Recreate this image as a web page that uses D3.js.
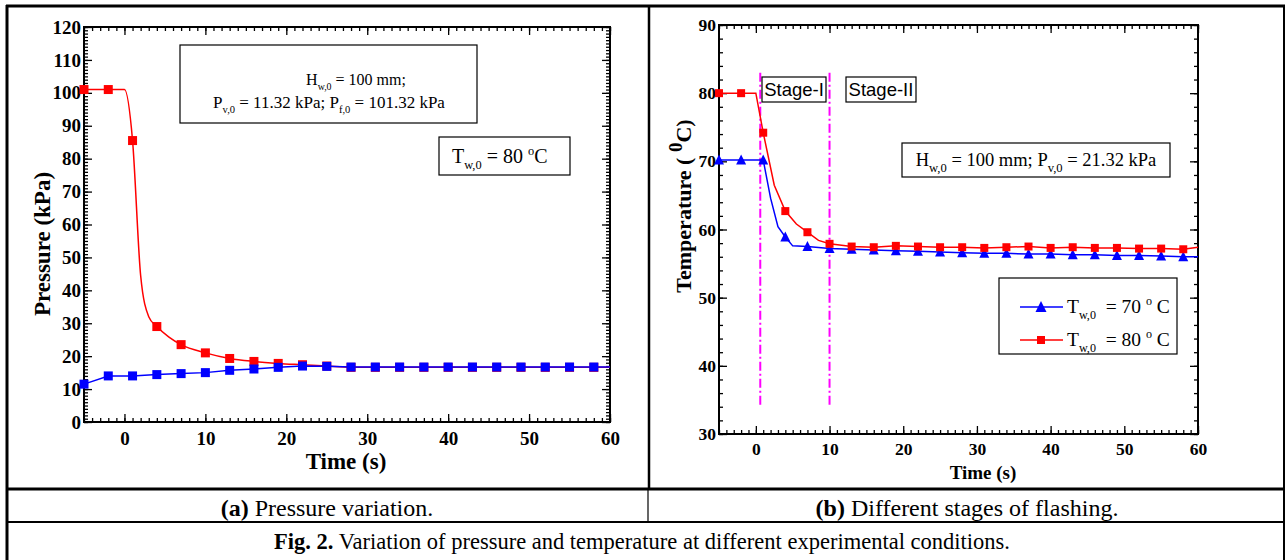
<!DOCTYPE html>
<html lang="en">
<head>
<meta charset="utf-8">
<script src="https://d3js.org/d3.v7.min.js"></script>
<style>
  body { margin: 0; background: #fff; }
  text { white-space: pre; }
</style>
</head>
<body>
<div id="chart"></div>
<script>
// ---------- (a) pressure variation ----------
const markTime = [-5, -2, 1, 4, 7, 10, 13, 16, 19, 22, 25, 28, 31, 34, 37, 40, 43, 46, 49, 52, 55, 58];
const press80Mark = [101, 101, 85.5, 29, 23.5, 21, 19.3, 18.4, 17.8, 17.4, 17.0, 16.6, 16.6, 16.6, 16.6, 16.6, 16.6, 16.6, 16.6, 16.6, 16.6, 16.6];
const press70Mark = [11.5, 14, 14, 14.4, 14.7, 15, 15.7, 16.1, 16.6, 17.0, 16.9, 16.7, 16.7, 16.7, 16.7, 16.7, 16.7, 16.7, 16.7, 16.7, 16.7, 16.7];
const press80LineTime = [-5, 0, 1, 2, 3, 4, 5.5, 7, 10, 13, 16, 19, 22, 25, 28, 31, 34, 37, 40, 43, 46, 49, 52, 55, 58, 60];
const press80Line = [101, 101, 85.5, 44.5, 32, 29, 25.8, 23.5, 21, 19.3, 18.4, 17.8, 17.4, 17.0, 16.6, 16.6, 16.6, 16.6, 16.6, 16.6, 16.6, 16.6, 16.6, 16.6, 16.6, 16.6];
const press70LineTime = [-5, -2, 1, 4, 7, 10, 13, 16, 19, 22, 25, 28, 31, 34, 37, 40, 43, 46, 49, 52, 55, 58, 60];
const press70Line = [11.5, 14, 14, 14.4, 14.7, 15, 15.7, 16.1, 16.6, 17.0, 16.9, 16.7, 16.7, 16.7, 16.7, 16.7, 16.7, 16.7, 16.7, 16.7, 16.7, 16.7, 16.7];
const pressYTicks = [0, 10, 20, 30, 40, 50, 60, 70, 80, 90, 100, 110, 120];

// ---------- (b) temperature / stages ----------
const temp80Mark = [80, 80, 74.2, 62.7, 59.6, 57.9, 57.5, 57.4, 57.6, 57.5, 57.4, 57.4, 57.3, 57.4, 57.5, 57.3, 57.4, 57.3, 57.3, 57.2, 57.2, 57.1];
const temp70Mark = [70.2, 70.2, 70.2, 58.9, 57.5, 57.2, 57.1, 57.0, 56.9, 56.8, 56.7, 56.6, 56.5, 56.5, 56.4, 56.4, 56.3, 56.3, 56.2, 56.2, 56.1, 56.0];
const temp80LineTime = [-5, 0, 1, 2.5, 4, 5.5, 7, 8.5, 10, 13, 16, 19, 22, 25, 28, 31, 34, 37, 40, 43, 46, 49, 52, 55, 58, 60];
const temp80Line = [80, 80, 74.2, 66.5, 62.7, 60.8, 59.6, 58.4, 57.9, 57.5, 57.4, 57.6, 57.5, 57.4, 57.4, 57.3, 57.4, 57.5, 57.3, 57.4, 57.3, 57.3, 57.2, 57.2, 57.1, 57.4];
const temp70LineTime = [-5, 1, 2, 3, 4, 5, 7, 10, 13, 16, 19, 22, 25, 28, 31, 34, 37, 40, 43, 46, 49, 52, 55, 58, 60];
const temp70Line = [70.2, 70.2, 64.6, 60.4, 58.9, 57.6, 57.5, 57.2, 57.1, 57.0, 56.9, 56.8, 56.7, 56.6, 56.5, 56.5, 56.4, 56.4, 56.3, 56.3, 56.2, 56.2, 56.1, 56.0, 56.0];
const tempYTicks = [30, 40, 50, 60, 70, 80, 90];
const stageTimes = [0.6, 10];
const stageSpan = [34, 83];

const timeTicks = [0, 10, 20, 30, 40, 50, 60];

const serif = "'Liberation Serif', 'Times New Roman', serif";
const sans = "'Liberation Sans', Arial, sans-serif";

const svg = d3.select("#chart").append("svg")
  .attr("width", 1287).attr("height", 560)
  .style("background", "#fff");

// text with sub / superscripts
function rich(sel, parts, size, small) {
  let shift = 0;
  parts.forEach(([txt, kind]) => {
    const target = kind === "sub" ? size * 0.3 : kind === "sup" ? -size * 0.4 : 0;
    sel.append("tspan")
      .attr("dy", target - shift)
      .attr("font-size", kind ? size * (small || 0.62) : size)
      .text(txt);
    shift = target;
  });
  return sel;
}

function drawPanel(cfg) {
  const g = svg.append("g");
  const x = d3.scaleLinear().domain([-5, 60]).range([cfg.left, cfg.right]);
  const y = d3.scaleLinear().domain(cfg.yDomain).range([cfg.bottom, cfg.top]);

  const xMinor = d3.range(-5, 61, 1);
  const yMinor = d3.range(cfg.yDomain[0], cfg.yDomain[1] + 0.001, cfg.yMinorStep);

  const styleAxis = a => {
    a.select(".domain").remove();
    a.selectAll("line").attr("stroke", "#000").attr("stroke-width", 1.3);
  };

  // minor ticks on all four sides
  g.append("g").attr("transform", `translate(0,${cfg.bottom})`)
    .call(d3.axisBottom(x).tickValues(xMinor).tickSize(-cfg.minor).tickFormat("")).call(styleAxis);
  g.append("g").attr("transform", `translate(0,${cfg.top})`)
    .call(d3.axisTop(x).tickValues(xMinor).tickSize(-cfg.minor).tickFormat("")).call(styleAxis);
  g.append("g").attr("transform", `translate(${cfg.left},0)`)
    .call(d3.axisLeft(y).tickValues(yMinor).tickSize(-cfg.minor).tickFormat("")).call(styleAxis);
  g.append("g").attr("transform", `translate(${cfg.right},0)`)
    .call(d3.axisRight(y).tickValues(yMinor).tickSize(-cfg.minor).tickFormat("")).call(styleAxis);

  // major ticks with labels
  const bx = g.append("g").attr("transform", `translate(0,${cfg.bottom})`)
    .call(d3.axisBottom(x).tickValues(timeTicks).tickSize(-cfg.major).tickPadding(cfg.xPad)).call(styleAxis);
  g.append("g").attr("transform", `translate(0,${cfg.top})`)
    .call(d3.axisTop(x).tickValues(timeTicks).tickSize(-cfg.major).tickFormat("")).call(styleAxis);
  const ly = g.append("g").attr("transform", `translate(${cfg.left},0)`)
    .call(d3.axisLeft(y).tickValues(cfg.yTicks).tickSize(-cfg.major).tickPadding(cfg.yPad)).call(styleAxis);
  g.append("g").attr("transform", `translate(${cfg.right},0)`)
    .call(d3.axisRight(y).tickValues(cfg.yTicks).tickSize(-cfg.major).tickFormat("")).call(styleAxis);

  [bx, ly].forEach(a => a.selectAll("text")
    .attr("font-family", serif).attr("font-weight", "bold")
    .attr("font-size", cfg.tickFont).attr("fill", "#000"));

  g.append("rect")
    .attr("x", cfg.left).attr("y", cfg.top)
    .attr("width", cfg.right - cfg.left).attr("height", cfg.bottom - cfg.top)
    .attr("fill", "none").attr("stroke", "#000").attr("stroke-width", 2);

  return { g, x, y };
}

function pairs(xs, ys) { return xs.map((t, i) => [t, ys[i]]); }

function drawLine(p, xs, ys, color, curve) {
  p.g.append("path")
    .datum(pairs(xs, ys))
    .attr("fill", "none").attr("stroke", color).attr("stroke-width", 1.5)
    .attr("d", d3.line().x(d => p.x(d[0])).y(d => p.y(d[1])).curve(curve || d3.curveLinear));
}

function drawSquares(p, xs, ys, color, s) {
  p.g.append("g").selectAll("rect")
    .data(pairs(xs, ys)).enter().append("rect")
    .attr("x", d => p.x(d[0]) - s / 2).attr("y", d => p.y(d[1]) - s / 2)
    .attr("width", s).attr("height", s)
    .attr("fill", color);
}

function drawTriangles(p, xs, ys, color, s) {
  p.g.append("g").selectAll("path")
    .data(pairs(xs, ys)).enter().append("path")
    .attr("transform", d => `translate(${p.x(d[0])},${p.y(d[1])})`)
    .attr("d", `M0,${-s * 0.55}L${s / 2},${s * 0.45}L${-s / 2},${s * 0.45}Z`)
    .attr("fill", color);
}

// ---------- panel (a) ----------
const pa = drawPanel({
  left: 84, right: 610, top: 27, bottom: 422,
  yDomain: [0, 120], yTicks: pressYTicks, yMinorStep: 1,
  major: 8, minor: 4, xPad: 10, yPad: 3, tickFont: 19
});
drawLine(pa, press80LineTime, press80Line, "#ff0000", d3.curveMonotoneX);
drawSquares(pa, markTime, press80Mark, "#ff0000", 9);
drawLine(pa, press70LineTime, press70Line, "#0000ff");
drawSquares(pa, markTime, press70Mark, "#0000ff", 9);

svg.append("text")
  .attr("transform", "translate(50,244) rotate(-90)")
  .attr("text-anchor", "middle").attr("font-family", serif).attr("font-weight", "bold")
  .attr("font-size", 23).text("Pressure (kPa)");
svg.append("text")
  .attr("x", 346).attr("y", 469)
  .attr("text-anchor", "middle").attr("font-family", serif).attr("font-weight", "bold")
  .attr("font-size", 23).text("Time (s)");

svg.append("rect").attr("x", 180).attr("y", 45).attr("width", 297).attr("height", 78)
  .attr("fill", "#fff").attr("stroke", "#000").attr("stroke-width", 1.2);
rich(svg.append("text").attr("x", 356).attr("y", 85).attr("text-anchor", "middle").attr("font-family", serif),
  [["H", ""], ["w,0", "sub"], [" = 100 mm;", ""]], 16);
rich(svg.append("text").attr("x", 329).attr("y", 108).attr("text-anchor", "middle").attr("font-family", serif),
  [["P", ""], ["v,0", "sub"], [" = 11.32 kPa; P", ""], ["f,0", "sub"], [" = 101.32 kPa", ""]], 17);

svg.append("rect").attr("x", 439).attr("y", 137).attr("width", 131).attr("height", 38)
  .attr("fill", "#fff").attr("stroke", "#000").attr("stroke-width", 1.2);
rich(svg.append("text").attr("x", 452).attr("y", 163).attr("font-family", serif),
  [["T", ""], ["w,0", "sub"], [" = 80 ", ""], ["o", "sup"], ["C", ""]], 20);

// ---------- panel (b) ----------
const pb = drawPanel({
  left: 719, right: 1198, top: 25, bottom: 434,
  yDomain: [30, 90], yTicks: tempYTicks, yMinorStep: 2,
  major: 8, minor: 4, xPad: 9, yPad: 3, tickFont: 17.5
});

pb.g.append("g").selectAll("line")
  .data(stageTimes).enter().append("line")
  .attr("x1", d => pb.x(d)).attr("x2", d => pb.x(d))
  .attr("y1", pb.y(stageSpan[1])).attr("y2", pb.y(stageSpan[0]))
  .attr("stroke", "#ff00ff").attr("stroke-width", 2)
  .attr("stroke-dasharray", "9,3,2,3");

drawLine(pb, temp70LineTime, temp70Line, "#0000ff");
drawTriangles(pb, markTime, temp70Mark, "#0000ff", 10);
drawLine(pb, temp80LineTime, temp80Line, "#ff0000");
drawSquares(pb, markTime, temp80Mark, "#ff0000", 8);

[["Stage-I", 762, 64], ["Stage-II", 846, 70]].forEach(([lab, x0, w]) => {
  svg.append("rect").attr("x", x0).attr("y", 77).attr("width", w).attr("height", 25)
    .attr("fill", "#fff").attr("stroke", "#000").attr("stroke-width", 1.2);
  svg.append("text").attr("x", x0 + w / 2).attr("y", 96)
    .attr("text-anchor", "middle").attr("font-family", sans).attr("font-size", 18.5).text(lab);
});

svg.append("rect").attr("x", 902).attr("y", 143).attr("width", 268).attr("height", 34)
  .attr("fill", "#fff").attr("stroke", "#000").attr("stroke-width", 1.2);
rich(svg.append("text").attr("x", 1036).attr("y", 166).attr("text-anchor", "middle").attr("font-family", serif),
  [["H", ""], ["w,0", "sub"], [" = 100 mm; P", ""], ["v,0", "sub"], [" = 21.32 kPa", ""]], 18.5, 0.68);

// legend
const legend = svg.append("g");
legend.append("rect").attr("x", 999).attr("y", 278).attr("width", 178).attr("height", 76)
  .attr("fill", "#fff").attr("stroke", "#000").attr("stroke-width", 1.2);
[["70", "#0000ff", 307, "tri"], ["80", "#ff0000", 340, "sq"]].forEach(([v, c, ly, m]) => {
  legend.append("line").attr("x1", 1020).attr("x2", 1063).attr("y1", ly).attr("y2", ly)
    .attr("stroke", c).attr("stroke-width", 1.5);
  if (m === "tri") {
    legend.append("path").attr("transform", `translate(1041,${ly})`)
      .attr("d", "M0,-6L5.5,5L-5.5,5Z").attr("fill", c);
  } else {
    legend.append("rect").attr("x", 1037).attr("y", ly - 4).attr("width", 8).attr("height", 8).attr("fill", c);
  }
  rich(legend.append("text").attr("x", 1067).attr("y", ly + 6).attr("font-family", serif),
    [["T", ""], ["w,0", "sub"], ["  = " + v + " ", ""], ["o", "sup"], [" C", ""]], 19.5);
});

const tLabel = svg.append("text")
  .attr("transform", "translate(691,206) rotate(-90)")
  .attr("text-anchor", "middle").attr("font-family", serif).attr("font-weight", "bold");
rich(tLabel, [["Temperature ( ", ""], ["0", "sup"], ["C)", ""]], 22);
tLabel.selectAll("tspan").filter((d, i) => i === 1).attr("font-size", 19);

svg.append("text")
  .attr("x", 983).attr("y", 479)
  .attr("text-anchor", "middle").attr("font-family", serif).attr("font-weight", "bold")
  .attr("font-size", 19).text("Time (s)");

// ---------- table frame and captions ----------
const frame = svg.append("g").attr("stroke", "#000").attr("fill", "none");
frame.append("line").attr("x1", 6).attr("x2", 1285).attr("y1", 6).attr("y2", 6).attr("stroke-width", 3);
frame.append("line").attr("x1", 7).attr("x2", 7).attr("y1", 5).attr("y2", 560).attr("stroke-width", 3);
frame.append("line").attr("x1", 1284).attr("x2", 1284).attr("y1", 5).attr("y2", 560).attr("stroke-width", 2);
frame.append("line").attr("x1", 649).attr("x2", 649).attr("y1", 6).attr("y2", 489).attr("stroke-width", 2.5);
frame.append("line").attr("x1", 6).attr("x2", 1285).attr("y1", 489).attr("y2", 489).attr("stroke-width", 3);
frame.append("line").attr("x1", 648).attr("x2", 648).attr("y1", 489).attr("y2", 522).attr("stroke-width", 1.2);
frame.append("line").attr("x1", 6).attr("x2", 1285).attr("y1", 522).attr("y2", 522).attr("stroke-width", 2);

function caption(x, y, bold, rest, size) {
  const t = svg.append("text").attr("x", x).attr("y", y)
    .attr("text-anchor", "middle").attr("font-family", serif).attr("font-size", size);
  t.append("tspan").attr("font-weight", "bold").text(bold);
  t.append("tspan").text(rest);
}
caption(327, 516, "(a)", " Pressure variation.", 24);
caption(967, 516, "(b)", " Different stages of flashing.", 24);
caption(642, 549, "Fig. 2.", " Variation of pressure and temperature at different experimental conditions.", 22.5);
</script>
</body>
</html>
